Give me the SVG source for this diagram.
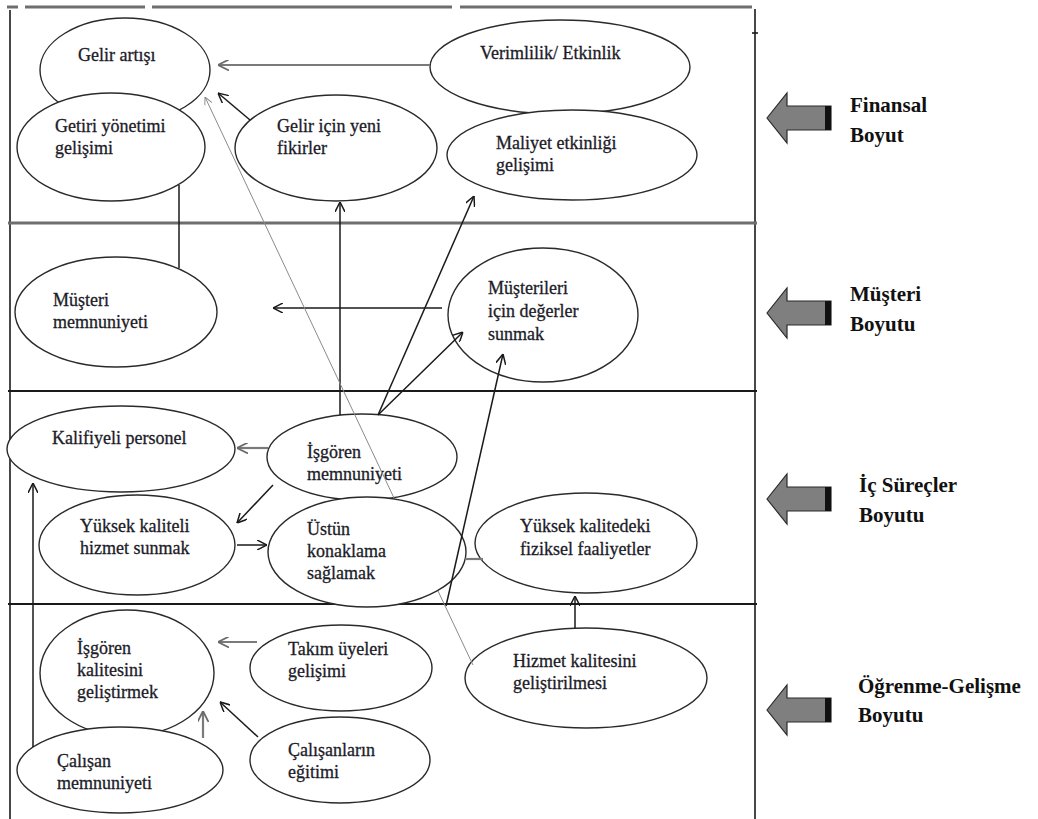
<svg xmlns="http://www.w3.org/2000/svg" width="1038" height="819" viewBox="0 0 1038 819">
  <style>
    .node ellipse { fill: #fff; stroke: #2a2a2a; stroke-width: 1.4; }
    .node text { font-family: "Liberation Serif", "Times New Roman", serif; font-size: 18px; fill: #1c1c28; stroke: #1c1c28; stroke-width: 0.3; }
    .frame { stroke: #1a1a1a; stroke-width: 1.6; fill: none; }
    .band { stroke: #6e6e6e; stroke-width: 3; }
    .sep { stroke: #1a1a1a; stroke-width: 1.8; }
    .conn line { stroke: #1a1a1a; stroke-width: 1.5; fill: none; }
    .conn .soft { stroke: #7a7a7a; stroke-width: 2.2; }
    .conn .thin { stroke: #8a8a8a; stroke-width: 1; }
    .dim text { font-family: "Liberation Serif", "Times New Roman", serif; font-size: 21px; font-weight: bold; fill: #111; }
  </style>
  <defs>
    <marker id="arr" viewBox="0 0 10 10" refX="10" refY="5" markerWidth="10" markerHeight="10" markerUnits="userSpaceOnUse" orient="auto">
      <path d="M0,0 L10,5 L0,10" fill="none" stroke="#1a1a1a" stroke-width="1.5"/>
    </marker>
    <marker id="arrSoft" viewBox="0 0 10 10" refX="10" refY="5" markerWidth="11" markerHeight="11" markerUnits="userSpaceOnUse" orient="auto">
      <path d="M0,0 L10,5 L0,10" fill="none" stroke="#6a6a6a" stroke-width="1.6"/>
    </marker>
    <marker id="arrThin" viewBox="0 0 10 10" refX="10" refY="5" markerWidth="8" markerHeight="8" markerUnits="userSpaceOnUse" orient="auto">
      <path d="M0,0 L10,5 L0,10" fill="none" stroke="#8a8a8a" stroke-width="1.2"/>
    </marker>
    <g id="blockArrow">
      <path d="M0,0 L20,-25 L20,-12 L64,-12 L64,12 L20,12 L20,25 Z" fill="#7f7f7f" stroke="#2a2a2a" stroke-width="1.2"/>
      <rect x="58" y="-12" width="6" height="24" fill="#111"/>
    </g>
  </defs>

  <rect width="1038" height="819" fill="#fff"/>

  <!-- frame and dimension bands -->
  <g id="frame">
    <line x1="7" y1="7" x2="18" y2="7" class="band" stroke-width="2.2"/>
    <line x1="25" y1="7" x2="145" y2="7" class="band" stroke-width="2.2"/>
    <line x1="152" y1="7" x2="452" y2="7" class="band" stroke-width="2.2"/>
    <line x1="460" y1="7" x2="752" y2="7" class="band" stroke-width="2.2"/>
    <line x1="10" y1="10" x2="10" y2="819" class="frame"/>
    <line x1="755" y1="9" x2="755" y2="819" class="frame"/>
    <line x1="752" y1="33" x2="758" y2="33" class="frame"/>
    <line x1="8" y1="223" x2="757" y2="223" class="band"/>
    <line x1="8" y1="391" x2="757" y2="391" class="sep"/>
    <line x1="8" y1="604" x2="757" y2="604" class="sep" stroke="#333"/>
  </g>

  <!-- Finansal -->
  <g id="gelir-artisi" class="node">
    <ellipse cx="125" cy="70" rx="85" ry="52"/>
    <text x="78" y="61">Gelir artışı</text>
  </g>
  <g id="getiri-yonetimi" class="node">
    <ellipse cx="111" cy="147" rx="94" ry="54"/>
    <text x="55" y="132">Getiri yönetimi</text>
    <text x="55" y="154">gelişimi</text>
  </g>
  <g id="gelir-icin-yeni-fikirler" class="node">
    <ellipse cx="336" cy="148" rx="101" ry="53"/>
    <text x="277" y="132">Gelir için yeni</text>
    <text x="277" y="154">fikirler</text>
  </g>
  <g id="verimlilik" class="node">
    <ellipse cx="560" cy="67" rx="130" ry="47"/>
    <text x="480" y="59">Verimlilik/ Etkinlik</text>
  </g>
  <g id="maliyet-etkinligi" class="node">
    <ellipse cx="572" cy="155" rx="125" ry="45"/>
    <text x="496" y="149">Maliyet etkinliği</text>
    <text x="496" y="171">gelişimi</text>
  </g>

  <!-- Müşteri -->
  <g id="musteri-memnuniyeti" class="node">
    <ellipse cx="116" cy="312" rx="101" ry="55"/>
    <text x="53" y="306">Müşteri</text>
    <text x="53" y="328">memnuniyeti</text>
  </g>
  <g id="musterileri-icin-degerler" class="node">
    <ellipse cx="543" cy="315" rx="95" ry="67"/>
    <text x="488" y="294">Müşterileri</text>
    <text x="488" y="317">için değerler</text>
    <text x="488" y="340">sunmak</text>
  </g>

  <!-- İç Süreçler -->
  <g id="kalifiyeli-personel" class="node">
    <ellipse cx="121" cy="449" rx="114" ry="43"/>
    <text x="52" y="444">Kalifiyeli personel</text>
  </g>
  <g id="isgoren-memnuniyeti" class="node">
    <ellipse cx="362" cy="457" rx="95" ry="43"/>
    <text x="307" y="458">İşgören</text>
    <text x="307" y="480">memnuniyeti</text>
  </g>
  <g id="yuksek-kaliteli-hizmet" class="node">
    <ellipse cx="137" cy="545" rx="98" ry="50"/>
    <text x="80" y="532">Yüksek kaliteli</text>
    <text x="80" y="554">hizmet sunmak</text>
  </g>
  <g id="ustun-konaklama" class="node">
    <ellipse cx="367" cy="552" rx="99" ry="55"/>
    <text x="307" y="535">Üstün</text>
    <text x="307" y="557">konaklama</text>
    <text x="307" y="579">sağlamak</text>
  </g>
  <g id="fiziksel-faaliyetler" class="node">
    <ellipse cx="586" cy="543" rx="111" ry="50"/>
    <text x="520" y="532">Yüksek kalitedeki</text>
    <text x="520" y="555">fiziksel faaliyetler</text>
  </g>

  <!-- Öğrenme-Gelişme -->
  <g id="isgoren-kalitesi" class="node">
    <ellipse cx="127" cy="673" rx="87" ry="63"/>
    <text x="77" y="654">İşgören</text>
    <text x="77" y="676">kalitesini</text>
    <text x="77" y="698">geliştirmek</text>
  </g>
  <g id="takim-uyeleri" class="node">
    <ellipse cx="341" cy="668" rx="91" ry="43"/>
    <text x="288" y="655">Takım üyeleri</text>
    <text x="288" y="677">gelişimi</text>
  </g>
  <g id="calisan-memnuniyeti" class="node">
    <ellipse cx="120" cy="770" rx="103" ry="43"/>
    <text x="57" y="767">Çalışan</text>
    <text x="57" y="789">memnuniyeti</text>
  </g>
  <g id="calisanlarin-egitimi" class="node">
    <ellipse cx="340" cy="760" rx="90" ry="43"/>
    <text x="288" y="756">Çalışanların</text>
    <text x="288" y="778">eğitimi</text>
  </g>
  <g id="hizmet-kalitesi" class="node">
    <ellipse cx="586" cy="678" rx="121" ry="50"/>
    <text x="513" y="667">Hizmet kalitesini</text>
    <text x="513" y="689">geliştirilmesi</text>
  </g>

  <!-- connectors -->
  <g id="connectors" class="conn">
    <line x1="430" y1="65" x2="218" y2="65" class="soft" marker-end="url(#arrSoft)"/>
    <line x1="250" y1="120" x2="218" y2="93" marker-end="url(#arr)"/>
    <line x1="179" y1="185" x2="179" y2="268"/>
    <line x1="442" y1="308" x2="273" y2="308" stroke="#444" marker-end="url(#arr)"/>
    <line x1="340" y1="415" x2="340" y2="202" marker-end="url(#arr)"/>
    <line x1="378" y1="415" x2="474" y2="196" marker-end="url(#arr)"/>
    <line x1="378" y1="415" x2="463" y2="332" marker-end="url(#arr)"/>
    <line x1="446" y1="606" x2="503" y2="354" marker-end="url(#arr)"/>
    <line x1="268" y1="448" x2="237" y2="448" class="soft" marker-end="url(#arrSoft)"/>
    <line x1="273" y1="485" x2="237" y2="523" marker-end="url(#arr)"/>
    <line x1="237" y1="545" x2="267" y2="545" marker-end="url(#arr)"/>
    <line x1="465" y1="559" x2="483" y2="559" class="soft"/>
    <line x1="575" y1="628" x2="575" y2="596" marker-end="url(#arr)"/>
    <line x1="33" y1="747" x2="33" y2="483" marker-end="url(#arr)"/>
    <line x1="257" y1="642" x2="218" y2="642" class="soft" marker-end="url(#arrSoft)"/>
    <line x1="203" y1="738" x2="203" y2="711" class="soft" marker-end="url(#arrSoft)"/>
    <line x1="258" y1="737" x2="220" y2="702" marker-end="url(#arr)"/>
    <line x1="473" y1="665" x2="438" y2="591" class="thin"/>
    <line x1="394" y1="498" x2="205" y2="97" class="thin" marker-end="url(#arrThin)"/>
  </g>

  <!-- dimension labels -->
  <g id="dim-finansal" class="dim">
    <use href="#blockArrow" x="767" y="118"/>
    <text x="850" y="112">Finansal</text>
    <text x="850" y="142">Boyut</text>
  </g>
  <g id="dim-musteri" class="dim">
    <use href="#blockArrow" x="767" y="313"/>
    <text x="850" y="301">Müşteri</text>
    <text x="850" y="331">Boyutu</text>
  </g>
  <g id="dim-ic-surecler" class="dim">
    <use href="#blockArrow" x="767" y="499"/>
    <text x="859" y="492">İç Süreçler</text>
    <text x="859" y="522">Boyutu</text>
  </g>
  <g id="dim-ogrenme" class="dim">
    <use href="#blockArrow" x="767" y="710"/>
    <text x="858" y="693">Öğrenme-Gelişme</text>
    <text x="858" y="722">Boyutu</text>
  </g>
</svg>
